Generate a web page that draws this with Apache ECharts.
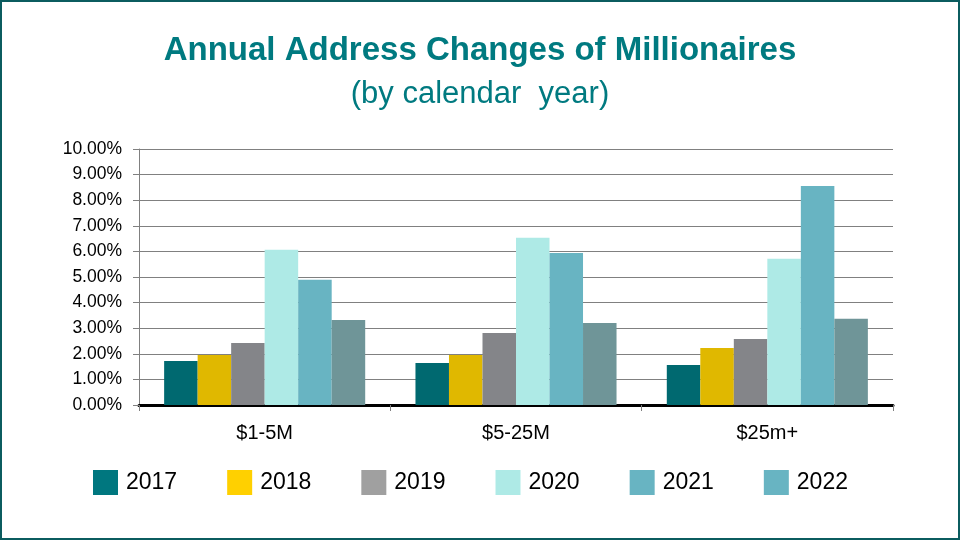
<!DOCTYPE html>
<html>
<head>
<meta charset="utf-8">
<script src="https://cdn.jsdelivr.net/npm/echarts@6/dist/echarts.min.js"></script>
<style>
  html, body { margin: 0; padding: 0; background: #fff; }
  #chart { position: absolute; left: 0; top: 0; width: 960px; height: 540px; }
  #frame { position: absolute; left: 0; top: 0; width: 960px; height: 540px; box-sizing: border-box;
           border: 2px solid #0b5c5f; pointer-events: none; }
</style>
</head>
<body>
<div id="chart"></div>
<div id="frame"></div>
<script>
// chart data (percent)
var categories = ['$1-5M', '$5-25M', '$25m+'];
var years = ['2017', '2018', '2019', '2020', '2021', '2022'];
var v2017 = [1.72, 1.64, 1.56];
var v2018 = [1.95, 1.95, 2.23];
var v2019 = [2.42, 2.81, 2.58];
var v2020 = [6.06, 6.53, 5.71];
var v2021 = [4.89, 5.94, 8.55];
var v2022 = [3.32, 3.20, 3.37];
var yTicks = [0, 1, 2, 3, 4, 5, 6, 7, 8, 9, 10];

var barColors = ['#006970', '#e0b800', '#848589', '#aeeae6', '#68b4c2', '#6f9598'];
var legendColors = ['#00777f', '#ffd000', '#a0a0a0', '#aeeae6', '#68b4c2', '#68b4c2'];
var allValues = [v2017, v2018, v2019, v2020, v2021, v2022];

function makeSeries(){
  var out = [];
  for(var i=0;i<years.length;i++){
    out.push({
      name: years[i],
      type: 'bar',
      barGap: 0,
      barCategoryGap: '20%',
      itemStyle: {color: barColors[i]},
      data: allValues[i]
    });
  }
  return out;
}

function makeLegend(){
  var out = [];
  for(var i=0;i<years.length;i++){
    out.push({name: years[i], itemStyle: {color: legendColors[i]}});
  }
  return out;
}

var myChart = echarts.init(document.getElementById('chart'));
var option = {
  animation: false,
  title: [
    {
      text: 'Annual Address Changes of Millionaires',
      left: 'center',
      top: 29,
      textStyle: {fontFamily: 'Liberation Sans, Arial, sans-serif', fontSize: 33, fontWeight: 'bold', color: '#007a80'}
    },
    {
      text: '(by calendar  year)',
      left: 'center',
      top: 74,
      textStyle: {fontFamily: 'Liberation Sans, Arial, sans-serif', fontSize: 31, fontWeight: 'normal', color: '#007a80'}
    }
  ],
  legend: {
    left: 93,
    top: 470,
    padding: 0,
    itemWidth: 25,
    itemHeight: 25,
    itemGap: 50,
    icon: 'rect',
    textStyle: {fontFamily: 'Liberation Sans, Arial, sans-serif', fontSize: 23, color: '#000', padding: [0, 0, 0, 3]},
    data: makeLegend()
  },
  grid: {
    left: 139,
    right: 67,
    top: 149,
    bottom: 135,
    containLabel: false
  },
  xAxis: {
    type: 'category',
    data: categories,
    axisLine: {lineStyle: {color: '#000', width: 3}},
    axisTick: {show: true, length: 6, lineStyle: {color: '#808080', width: 1}},
    axisLabel: {fontFamily: 'Liberation Sans, Arial, sans-serif', fontSize: 20, color: '#000', margin: 18}
  },
  yAxis: {
    type: 'value',
    min: yTicks[0],
    max: yTicks[yTicks.length-1],
    interval: 1,
    axisLine: {show: true, lineStyle: {color: '#808080', width: 1}},
    axisTick: {show: true, length: 6, lineStyle: {color: '#808080'}},
    splitLine: {show: true, lineStyle: {color: '#808080', width: 1}},
    axisLabel: {
      fontFamily: 'Liberation Sans, Arial, sans-serif', fontSize: 17.5, color: '#000', margin: 17,
      formatter: function(v){ return v.toFixed(2) + '%'; }
    }
  },
  series: makeSeries()
};
myChart.setOption(option);
</script>
</body>
</html>
